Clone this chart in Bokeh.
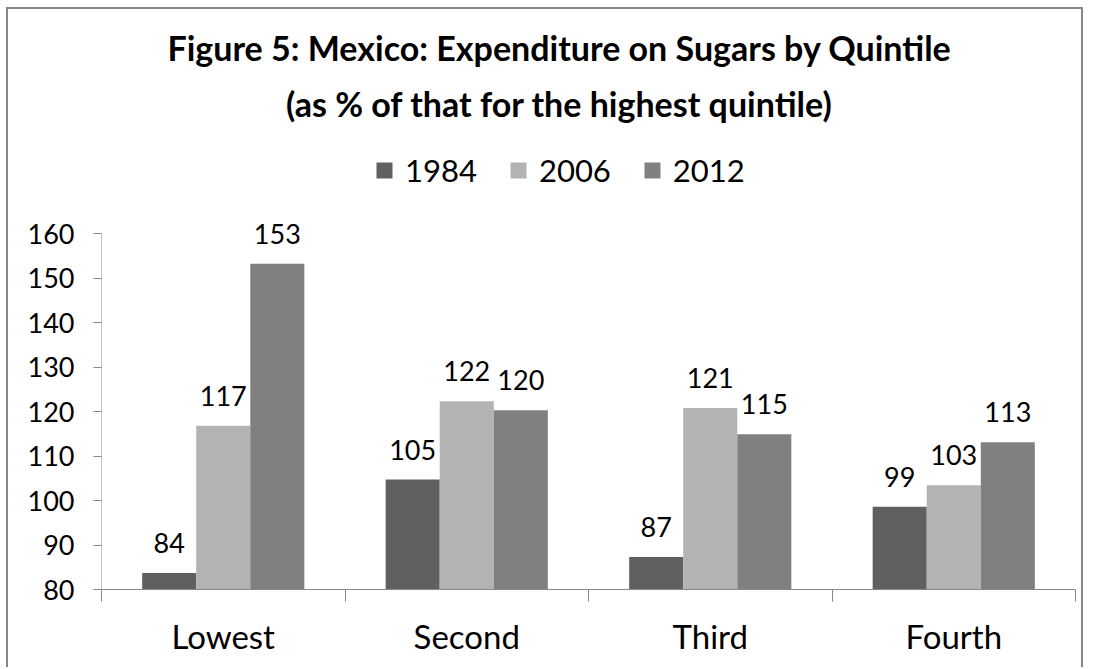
from bokeh.plotting import figure
from bokeh.models import ColumnDataSource, FixedTicker, Legend, LegendItem, LabelSet, Label, Range1d
from bokeh.core.properties import value
from bokeh.embed import file_html
from bokeh.resources import INLINE
import numpy as np

categories = ["Lowest", "Second", "Third", "Fourth"]
years = ["1984", "2006", "2012"]
v1984 = [83.7, 104.7, 87.3, 98.6]
v2006 = [116.8, 122.3, 120.8, 103.4]
v2012 = [153.2, 120.3, 114.9, 113.1]
y_ticks = [80, 90, 100, 110, 120, 130, 140, 150, 160]
title_lines = ["Figure 5: Mexico: Expenditure on Sugars by Quintile",
               "(as % of that for the highest quintile)"]

colors = ["#606060", "#b3b3b3", "#808080"]
series = [v1984, v2006, v2012]
offsets = [-0.222, 0.0, 0.222]
bar_w = 0.222
FONT = "Lato"

# layout (pixels)
W, H = 1077, 660
frame_left, frame_right_pad, frame_bottom_pad = 93, 10, 80
axis_px = 356.0                      # pixel height for y 80..160
frame_h = H - frame_bottom_pad       # frame runs up to top of canvas
y0, y1 = y_ticks[0], y_ticks[-1]
ppu = axis_px / (y1 - y0)
y_top = y0 + frame_h / ppu

p = figure(width=W, height=H, output_backend="svg", toolbar_location=None,
           x_range=Range1d(0, len(categories)), y_range=Range1d(y0, y_top),
           min_border_left=frame_left, min_border_right=frame_right_pad,
           min_border_bottom=frame_bottom_pad, min_border_top=0)
p.outline_line_color = None
p.grid.visible = False
p.background_fill_color = "white"
p.border_fill_color = "white"

idx = np.arange(len(categories))
items = []
for yr, vals, off, c in zip(years, series, offsets, colors):
    src = ColumnDataSource(dict(x=idx + 0.5 + off, top=vals, lab=[str(int(round(v))) for v in vals]))
    r = p.vbar(x="x", top="top", bottom=y0, width=bar_w, source=src, fill_color=c, line_color=None)
    items.append(LegendItem(label=yr, renderers=[r]))
    p.add_layout(LabelSet(x="x", y="top", text="lab", source=src, text_align="center",
                          text_baseline="alphabetic", y_offset=20, text_font=value(FONT),
                          text_font_size=value("27px"), text_color="black"))

# y axis: line drawn only over 80..160
p.segment(x0=[0], y0=[y0], x1=[0], y1=[y1], line_color="#888888", line_width=1)
p.yaxis.ticker = FixedTicker(ticks=y_ticks)
p.yaxis.axis_line_color = None
p.yaxis.major_tick_out = 8
p.yaxis.major_tick_in = 0
p.yaxis.minor_tick_line_color = None
p.yaxis.major_tick_line_color = "#888888"
p.yaxis.major_label_text_font = FONT
p.yaxis.major_label_text_font_size = "27px"
p.yaxis.major_label_text_color = "black"
p.yaxis.major_label_standoff = 19

centers = list(idx + 0.5)
p.xaxis.ticker = FixedTicker(ticks=centers, minor_ticks=list(range(len(categories) + 1)))
p.xaxis.major_label_overrides = {float(c): n for c, n in zip(centers, categories)}
p.xaxis.major_tick_line_color = None
p.xaxis.minor_tick_out = 12
p.xaxis.minor_tick_in = 0
p.xaxis.minor_tick_line_color = "#888888"
p.xaxis.axis_line_color = "#888888"
p.xaxis.major_label_text_font = FONT
p.xaxis.major_label_text_font_size = "33px"
p.xaxis.major_label_text_color = "black"
p.xaxis.major_label_standoff = 14

legend = Legend(items=items, orientation="horizontal", location=(273, 400),
                label_text_font=FONT, label_text_font_size="31px", label_text_color="black",
                glyph_width=20, glyph_height=20, spacing=31, label_standoff=11,
                border_line_color=None, background_fill_alpha=0, margin=0, padding=0)
p.add_layout(legend, "center")

title_x = 1.881
for txt, yb in zip(title_lines, [47, 103]):
    p.add_layout(Label(x=title_x, y=y1 + (233 - yb) / ppu, text=txt,
                       text_align="center", text_baseline="alphabetic", text_font=FONT,
                       text_font_size="34px", text_font_style="bold", text_color="black"))

p.styles = {"margin-left": "6px", "margin-top": "7px",
            "border-top": "2px solid #888888", "border-left": "2px solid #888888",
            "border-right": "2px solid #888888"}

open("out.html", "w").write(file_html(p, INLINE))
